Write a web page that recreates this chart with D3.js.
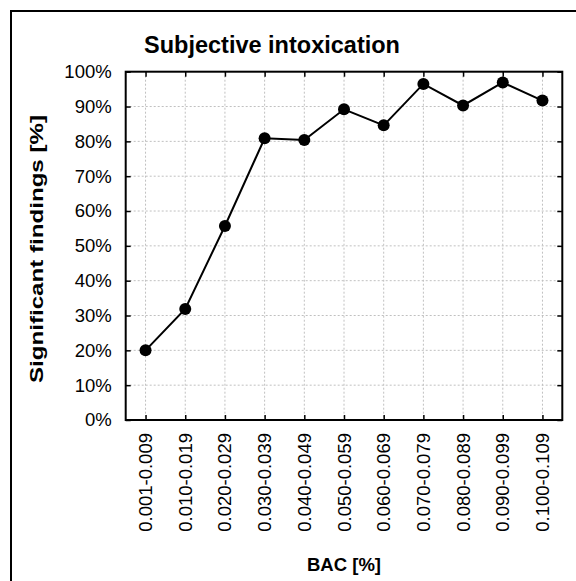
<!DOCTYPE html>
<html><head><meta charset="utf-8">
<script src="https://cdn.jsdelivr.net/npm/d3@7"></script>
<style>body{margin:0;background:#fff}svg{display:block}text{font-family:"Liberation Sans",Arial,sans-serif;fill:#000}</style>
</head><body>
<svg id="c" width="576" height="581"></svg>
<script>
const categories = ["0.001-0.009","0.010-0.019","0.020-0.029","0.030-0.039","0.040-0.049","0.050-0.059","0.060-0.069","0.070-0.079","0.080-0.089","0.090-0.099","0.100-0.109"];
const values = [20.0, 31.9, 55.7, 80.9, 80.4, 89.2, 84.6, 96.5, 90.3, 96.9, 91.7];
const yTicks = [0,10,20,30,40,50,60,70,80,90,100];
const title = "Subjective intoxication";
const xTitle = "BAC [%]";
const yTitle = "Significant findings [%]";

const svg = d3.select("#c");
const L = 125.7, R = 562.3, T = 71.7, B = 420;
const x = d3.scalePoint().domain(categories).range([L, R]).padding(0.5);
const y = d3.scaleLinear().domain([0,100]).range([B, T]);

// outer border
svg.append("rect").attr("x",11).attr("y",11).attr("width",700).attr("height",700)
  .attr("fill","none").attr("stroke","#000").attr("stroke-width",2);

// grid
const g = svg.append("g");
g.selectAll(".gy").data(yTicks.filter(d=>d>0&&d<100)).join("line")
  .attr("x1",L).attr("x2",R).attr("y1",d=>y(d)).attr("y2",d=>y(d))
  .attr("stroke","#c0c0c0").attr("stroke-width",1).attr("stroke-dasharray","2,2");
g.selectAll(".gx").data(categories).join("line")
  .attr("x1",d=>x(d)).attr("x2",d=>x(d)).attr("y1",T).attr("y2",B)
  .attr("stroke","#c0c0c0").attr("stroke-width",1).attr("stroke-dasharray","2,2");

// axes with inward ticks
const axL = d3.axisLeft(y).tickValues(yTicks).tickSize(-5).tickFormat(d=>d+"%").tickPadding(14);
const axRt = d3.axisRight(y).tickValues(yTicks).tickSize(-5).tickFormat("");
const axB = d3.axisBottom(x).tickSize(-5).tickFormat("");
const axT = d3.axisTop(x).tickSize(-5).tickFormat("");
function style(sel){
  sel.select(".domain").remove();
  sel.selectAll(".tick line").attr("stroke","#000").attr("stroke-width",1.5);
}
const gl = svg.append("g").attr("transform",`translate(${L},0)`).call(axL).call(style);
gl.selectAll(".tick text").attr("font-size","18.5px").attr("font-family",'"Liberation Sans",Arial,sans-serif').attr("fill","#000");
svg.append("g").attr("transform",`translate(${R},0)`).call(axRt).call(style);
svg.append("g").attr("transform",`translate(0,${B})`).call(axB).call(style);
svg.append("g").attr("transform",`translate(0,${T})`).call(axT).call(style);

// x tick labels rotated
svg.append("g").selectAll("text").data(categories).join("text")
  .attr("transform",d=>`translate(${x(d)+6.5},433) rotate(-90)`)
  .attr("text-anchor","end").attr("font-size","18.5px").text(d=>d);

// frame
svg.append("rect").attr("x",L).attr("y",T).attr("width",R-L).attr("height",B-T)
  .attr("fill","none").attr("stroke","#000").attr("stroke-width",2);

// line and points
const line = d3.line().x((d,i)=>x(categories[i])).y(d=>y(d));
svg.append("path").datum(values).attr("d",line).attr("fill","none").attr("stroke","#000").attr("stroke-width",2);
svg.append("g").selectAll("circle").data(values).join("circle")
  .attr("cx",(d,i)=>x(categories[i])).attr("cy",d=>y(d)).attr("r",6).attr("fill","#000");

// titles
svg.append("text").attr("x",272).attr("y",53).attr("text-anchor","middle")
  .attr("font-size","23.5px").attr("font-weight","bold").text(title);
svg.append("text").attr("x",344).attr("y",571).attr("text-anchor","middle")
  .attr("font-size","18.5px").attr("font-weight","bold").text(xTitle);
svg.append("text").attr("transform","translate(43,383) rotate(-90)").attr("text-anchor","start")
  .attr("font-size","18.5px").attr("font-weight","bold")
  .attr("textLength",268).attr("lengthAdjust","spacingAndGlyphs").text(yTitle);
</script>
</body></html>
